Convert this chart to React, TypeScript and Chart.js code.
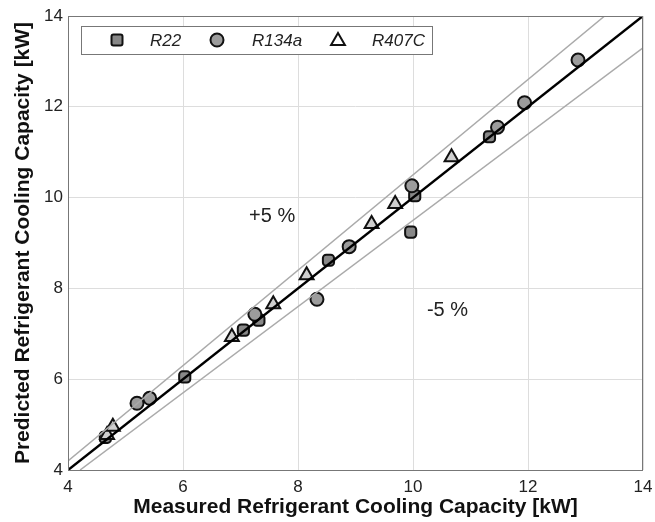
import React, { useEffect, useRef } from 'react';
import { Chart, registerables } from 'chart.js';

Chart.register(...registerables);

// Data (kW)
const r22X = [4.65, 6.03, 7.05, 7.32, 8.53, 9.96, 10.03, 11.33];
const r22Y = [4.72, 6.05, 7.08, 7.3, 8.62, 9.24, 10.04, 11.34];
const r134aX = [5.2, 5.42, 7.25, 8.33, 8.89, 9.98, 11.47, 11.94, 12.87];
const r134aY = [5.47, 5.58, 7.43, 7.76, 8.92, 10.26, 11.55, 12.09, 13.03];
const r407cX = [4.68, 4.78, 6.85, 7.57, 8.15, 9.28, 9.69, 10.67];
const r407cY = [4.77, 4.95, 6.93, 7.65, 8.29, 9.42, 9.86, 10.89];

// Reference lines
const idealX = [4, 14];
const idealY = [4, 14];
const plus5X = [4, 13.333];
const plus5Y = [4.2, 14];
const minus5X = [4.21, 14];
const minus5Y = [4, 13.3];

// Axis
const axisMin = 4;
const axisMax = 14;
const axisStep = 2;

// Annotations
const plusLabel = { text: '+5 %', x: 7.55, y: 9.58 };
const minusLabel = { text: '-5 %', x: 10.6, y: 7.52 };

const seriesNames = ['R22', 'R134a', 'R407C'];

const FONT = "'Liberation Sans', Arial, sans-serif";

const pts = (xs: number[], ys: number[]) => xs.map((x, i) => ({ x, y: ys[i] }));

function drawMarker(ctx: CanvasRenderingContext2D, kind: string, x: number, y: number) {
  ctx.save();
  ctx.lineWidth = 2;
  ctx.strokeStyle = '#111';
  ctx.beginPath();
  if (kind === 'rect') {
    ctx.fillStyle = '#888';
    const s = 5.5;
    const r = 2;
    ctx.moveTo(x - s + r, y - s);
    ctx.arcTo(x + s, y - s, x + s, y + s, r);
    ctx.arcTo(x + s, y + s, x - s, y + s, r);
    ctx.arcTo(x - s, y + s, x - s, y - s, r);
    ctx.arcTo(x - s, y - s, x + s, y - s, r);
    ctx.closePath();
  } else if (kind === 'circle') {
    ctx.fillStyle = '#9c9c9c';
    ctx.arc(x, y, 6.5, 0, Math.PI * 2);
  } else {
    ctx.fillStyle = '#fff';
    const r = 8;
    ctx.moveTo(x, y - r);
    ctx.lineTo(x + r * 0.866, y + r * 0.5);
    ctx.lineTo(x - r * 0.866, y + r * 0.5);
    ctx.closePath();
  }
  ctx.fill();
  ctx.stroke();
  ctx.restore();
}

const overlay = {
  id: 'overlay',
  afterDraw(chart: any) {
    const { ctx, chartArea, scales } = chart;
    const xs = scales.x;
    const ys = scales.y;
    ctx.save();
    // plot frame
    ctx.strokeStyle = '#777';
    ctx.lineWidth = 1;
    ctx.strokeRect(chartArea.left + 0.5, chartArea.top + 0.5, chartArea.right - chartArea.left - 1, chartArea.bottom - chartArea.top);
    // annotations
    ctx.fillStyle = '#222';
    ctx.font = `20px ${FONT}`;
    ctx.textAlign = 'center';
    ctx.textBaseline = 'middle';
    [plusLabel, minusLabel].forEach((l) => {
      ctx.fillText(l.text, xs.getPixelForValue(l.x), ys.getPixelForValue(l.y));
    });
    // legend
    const L = chartArea.left;
    const T = chartArea.top;
    ctx.fillStyle = '#fff';
    ctx.fillRect(L + 13, T + 10, 351, 28);
    ctx.strokeStyle = '#777';
    ctx.strokeRect(L + 13.5, T + 10.5, 351, 28);
    const kinds = ['rect', 'circle', 'triangle'];
    const mx = [49, 149, 270];
    const tx = [82, 184, 304];
    ctx.font = `italic 17px ${FONT}`;
    ctx.textAlign = 'left';
    kinds.forEach((k, i) => {
      drawMarker(ctx, k, L + mx[i], T + 24 + (k === 'triangle' ? 1 : 0));
      ctx.fillStyle = '#222';
      ctx.fillText(seriesNames[i], L + tx[i], T + 25);
    });
    ctx.restore();
  },
};

export default function App() {
  const ref = useRef<HTMLCanvasElement>(null);
  useEffect(() => {
    if (!ref.current) return;
    const chart = new Chart(ref.current, {
      type: 'scatter',
      data: {
        datasets: [
          {
            label: 'ideal',
            type: 'line',
            data: pts(idealX, idealY),
            borderColor: '#000',
            borderWidth: 2.5,
            pointRadius: 0,
            fill: false,
            order: 0,
          },
          {
            label: '+5',
            type: 'line',
            data: pts(plus5X, plus5Y),
            borderColor: '#aaa',
            borderWidth: 1.5,
            pointRadius: 0,
            fill: false,
            order: 1,
          },
          {
            label: '-5',
            type: 'line',
            data: pts(minus5X, minus5Y),
            borderColor: '#aaa',
            borderWidth: 1.5,
            pointRadius: 0,
            fill: false,
            order: 1,
          },
          {
            label: seriesNames[0],
            data: pts(r22X, r22Y),
            pointStyle: 'rectRounded',
            pointRadius: 6.5,
            backgroundColor: '#888',
            borderColor: '#111',
            borderWidth: 2,
            order: 4,
          },
          {
            label: seriesNames[1],
            data: pts(r134aX, r134aY),
            pointStyle: 'circle',
            pointRadius: 6.5,
            backgroundColor: '#9c9c9c',
            borderColor: '#111',
            borderWidth: 2,
            order: 3,
          },
          {
            label: seriesNames[2],
            data: pts(r407cX, r407cY),
            pointStyle: 'triangle',
            pointRadius: 8,
            backgroundColor: '#cfcfcf',
            borderColor: '#111',
            borderWidth: 2,
            order: 2,
          },
        ],
      },
      options: {
        animation: false,
        responsive: false,
        events: [],
        layout: { padding: { top: 16, right: 0, left: 0, bottom: 0 } },
        plugins: { legend: { display: false }, tooltip: { enabled: false } },
        scales: {
          x: {
            type: 'linear',
            min: axisMin,
            max: axisMax,
            ticks: { stepSize: axisStep, color: '#222', font: { size: 17, family: FONT }, padding: 7, maxRotation: 0 },
            grid: { color: '#ddd', drawTicks: false },
            border: { display: false },
            title: {
              display: true,
              text: 'Measured Refrigerant Cooling Capacity [kW]',
              color: '#111',
              font: { size: 21, weight: 'bold', family: FONT },
              padding: { top: 0, bottom: 2 },
            },
            afterFit: (s: any) => { s.height = 52; s.paddingRight = 12; },
          },
          y: {
            type: 'linear',
            min: axisMin,
            max: axisMax,
            ticks: { stepSize: axisStep, color: '#222', font: { size: 17, family: FONT }, padding: 5 },
            grid: { color: '#ddd', drawTicks: false },
            border: { display: false },
            title: {
              display: true,
              text: 'Predicted Refrigerant Cooling Capacity [kW]',
              color: '#111',
              font: { size: 21, weight: 'bold', family: FONT },
              padding: { top: 11, bottom: 0 },
            },
            afterFit: (s: any) => { s.width = 68; },
          },
        },
      },
      plugins: [overlay],
    } as any);
    return () => chart.destroy();
  }, []);
  return (
    <div style={{ position: 'fixed', left: 0, top: 0, width: 655, height: 522, background: '#fff' }}>
      <canvas ref={ref} width={655} height={522} style={{ width: 655, height: 522 }} />
    </div>
  );
}
